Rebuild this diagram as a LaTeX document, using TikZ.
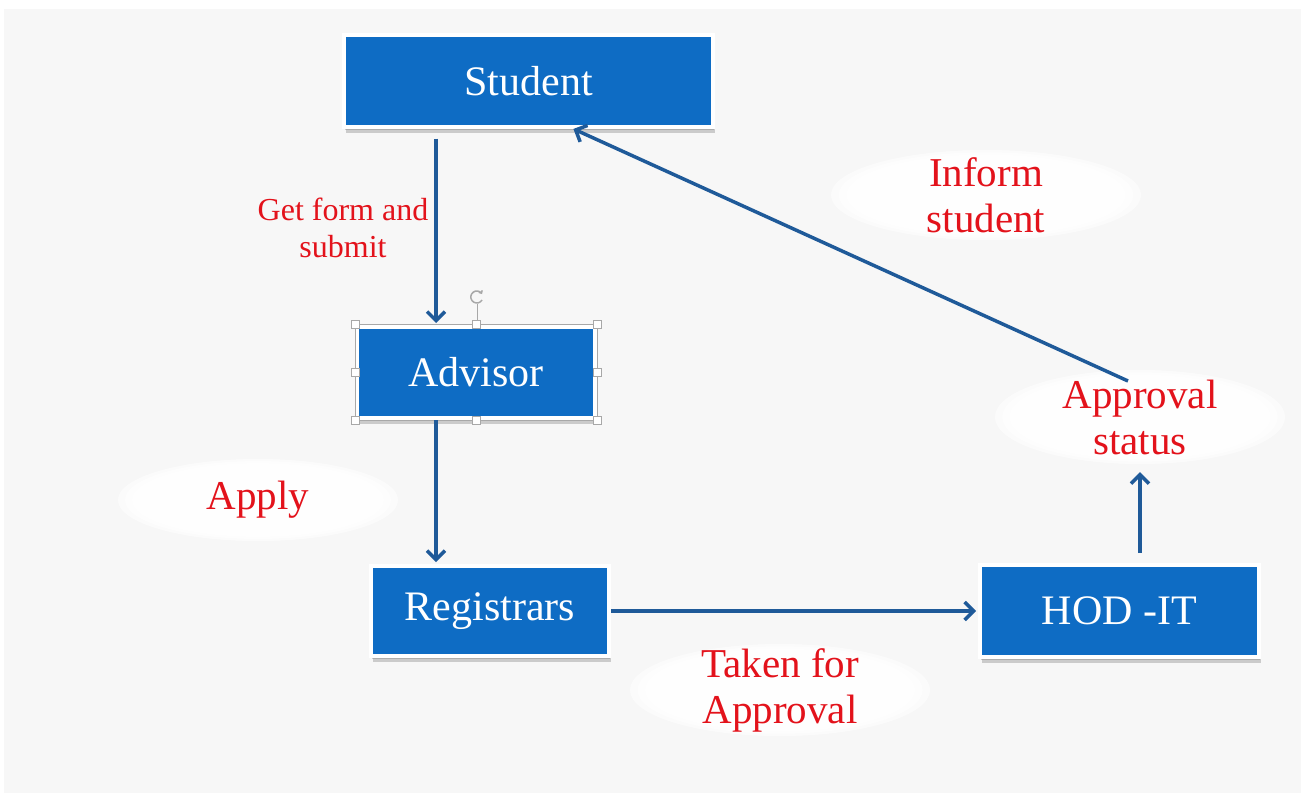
\documentclass[tikz,border=0pt]{standalone}
\usepackage{fontspec}
\setmainfont{Liberation Serif}
\usetikzlibrary{arrows.meta,shadows,shapes.geometric}
\definecolor{boxblue}{HTML}{0E6CC4}
\definecolor{arrblue}{HTML}{1F5A99}
\definecolor{lblred}{HTML}{E3121B}
\definecolor{bgcol}{HTML}{F7F7F7}
\definecolor{handlegrey}{HTML}{A8A8A8}
\begin{document}
\begin{tikzpicture}[x=1pt,y=-1pt,
  box/.style={rectangle, fill=boxblue, draw=white, line width=4pt, text=white,
    font=\fontsize{42}{46}\selectfont, inner sep=0pt,
    double copy shadow={shadow xshift=1pt, shadow yshift=-3pt, opacity=0.3, fill=black!60, draw=none}},
  arr/.style={draw=arrblue, line width=3.5pt,
    -{Straight Barb[length=9pt,width=18pt,line width=3.5pt]}},
  lbl/.style={text=lblred, align=center, font=\fontsize{41}{46}\selectfont},
  handle/.style={rectangle, fill=white, draw=handlegrey, line width=1pt,
    minimum size=8pt, inner sep=0pt}
]
\useasboundingbox (0,0) rectangle (1305,800);
\fill[white] (0,0) rectangle (1305,800);
\fill[bgcol] (4,9) rectangle (1301,793);

% soft label clouds
\foreach \cx/\cy/\w/\h in {258/500/280/82, 780/690/300/92, 986/195/310/90, 1140/417/290/94}{
  \foreach \s in {1.0,0.95,0.9,0.85,0.8}
    \fill[white, opacity=0.6] (\cx,\cy) ellipse[x radius=\s*\w/2, y radius=\s*\h/2];
}
\node[lbl, minimum width=280, minimum height=82] (apply) at (258,500) {Apply};
\node[lbl, minimum width=300, minimum height=92] (taken) at (780,690) {Taken for\\Approval};
\node[lbl, minimum width=310, minimum height=90] (inform) at (986,195) {Inform\\student};
\node[ellipse, inner sep=0pt, lbl, minimum width=290, minimum height=94] (appr) at (1140,417) {Approval\\status};
\node[lbl, font=\fontsize{32}{37}\selectfont] (getform) at (343,228) {Get form and\\submit};

% boxes
\node[box, minimum width=369, minimum height=91] (student) at (528.5,81) {Student};
\node[box, minimum width=238, minimum height=91] (advisor) at (476,372.5) {Advisor};
\node[box, minimum width=238, minimum height=90] (registrars) at (490,611) {Registrars};
\node[box, minimum width=279, minimum height=92] (hod) at (1119.5,611) {HOD -IT};

% selection frame on Advisor
\draw[handlegrey, line width=1pt] (355,324) rectangle (597,420);
\coordinate (rot) at (477,297);
\draw[handlegrey, line width=1pt] (477,304) -- (477,324);
\draw[handlegrey, line width=1.5pt, -{Straight Barb[length=2pt,width=4pt]}] (482,300) arc[start angle=30, end angle=330, radius=6];
\foreach \p in {(355,324),(476,324),(597,324),(355,372),(597,372),(355,420),(476,420),(597,420)}
  \node[handle] at \p {};

% connectors
\coordinate (cx1) at (436,0);
\coordinate (cx2) at (1140,0);
\coordinate (a1) at (1128,381);
\draw[arr, shorten <=10pt, shorten >=2pt] (student.south -| cx1) -- (advisor.north -| cx1);
\draw[arr, shorten >=2pt] (advisor.south -| cx1) -- (registrars.north -| cx1);
\draw[arr, shorten >=2pt] (registrars.east) -- (hod.west);
\draw[arr, shorten <=10pt, shorten >=2pt] (hod.north -| cx2) -- (appr.south -| cx2);
\draw[arr, shorten >=1pt] (a1) -- ([xshift=44pt]student.south);
\end{tikzpicture}
\end{document}
